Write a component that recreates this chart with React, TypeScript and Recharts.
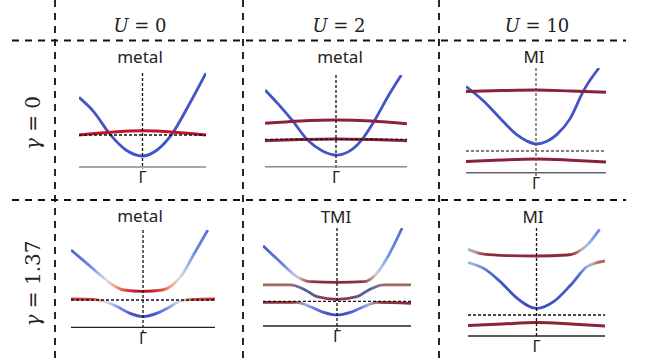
import React from 'react';
import { ComposedChart, Line, XAxis, YAxis, ReferenceLine } from 'recharts';

type Pt = { k: number; e: number };

// ---------- column / row labels ----------
const columnLabels = ['0', '2', '10'];
const rowLabels = ['0', '1.37'];
const phaseLabels = ['metal', 'metal', 'MI', 'metal', 'TMI', 'MI'];
const tickLabel = 'Γ';

// ---------- panel A : U=0, γ=0 ----------
const aBlue: Pt[] = [
  { k: -1, e: 1.88 }, { k: -0.77, e: 1.17 }, { k: -0.51, e: 0.03 }, { k: -0.26, e: -0.75 },
  { k: 0, e: -1.05 }, { k: 0.23, e: -0.75 }, { k: 0.46, e: 0.03 }, { k: 0.73, e: 1.5 }, { k: 1, e: 3.1 },
];
const aFlat: Pt[] = [
  { k: -1, e: 0 }, { k: -0.5, e: 0.14 }, { k: 0, e: 0.21 }, { k: 0.5, e: 0.14 }, { k: 1, e: 0 },
];

// ---------- panel B : U=2, γ=0 ----------
const bBlue: Pt[] = [
  { k: -1, e: 2.47 }, { k: -0.8, e: 1.71 }, { k: -0.61, e: 0.92 }, { k: -0.4, e: -0.04 },
  { k: -0.19, e: -0.59 }, { k: 0, e: -0.79 }, { k: 0.19, e: -0.59 }, { k: 0.36, e: -0.04 },
  { k: 0.54, e: 0.92 }, { k: 0.73, e: 2.13 }, { k: 0.92, e: 3.215 },
];
const bUpper: Pt[] = [
  { k: -1, e: 0.8 }, { k: -0.5, e: 0.92 }, { k: 0, e: 0.97 }, { k: 0.5, e: 0.92 }, { k: 1, e: 0.78 },
];
const bLower: Pt[] = [
  { k: -1, e: -0.07 }, { k: -0.5, e: -0.01 }, { k: 0, e: 0.02 }, { k: 0.5, e: -0.01 }, { k: 1, e: -0.07 },
];

// ---------- panel C : U=10, γ=0 ----------
const cBlue: Pt[] = [
  { k: -1, e: 3.22 }, { k: -0.75, e: 2.5 }, { k: -0.51, e: 1.63 }, { k: -0.28, e: 0.83 },
  { k: -0.13, e: 0.5 }, { k: 0, e: 0.35 }, { k: 0.15, e: 0.47 }, { k: 0.3, e: 0.83 },
  { k: 0.49, e: 1.63 }, { k: 0.68, e: 3.02 }, { k: 0.9, e: 4.15 },
];
const cUpper: Pt[] = [
  { k: -1, e: 2.97 }, { k: -0.5, e: 3.02 }, { k: 0, e: 3.05 }, { k: 0.5, e: 3.0 }, { k: 1, e: 2.94 },
];
const cLower: Pt[] = [
  { k: -1, e: -0.53 }, { k: -0.5, e: -0.45 }, { k: 0, e: -0.4 }, { k: 0.5, e: -0.46 }, { k: 1, e: -0.55 },
];

// ---------- panel D : U=0, γ=1.37 ----------
const dUpper: Pt[] = [
  { k: -1, e: 2.5 }, { k: -0.78, e: 1.83 }, { k: -0.55, e: 1.12 }, { k: -0.42, e: 0.75 },
  { k: -0.27, e: 0.5 }, { k: 0, e: 0.43 }, { k: 0.27, e: 0.5 }, { k: 0.4, e: 0.72 },
  { k: 0.54, e: 1.25 }, { k: 0.7, e: 2.25 }, { k: 0.9, e: 3.5 },
];
const dLower: Pt[] = [
  { k: -1, e: 0.05 }, { k: -0.69, e: 0.03 }, { k: -0.55, e: -0.05 }, { k: -0.36, e: -0.33 },
  { k: -0.18, e: -0.67 }, { k: 0, e: -0.83 }, { k: 0.19, e: -0.67 }, { k: 0.38, e: -0.33 },
  { k: 0.52, e: -0.05 }, { k: 0.7, e: 0.03 }, { k: 1, e: 0.05 },
];

// ---------- panel E : U=2, γ=1.37 ----------
const eUpper: Pt[] = [
  { k: -1, e: 2.78 }, { k: -0.77, e: 1.98 }, { k: -0.54, e: 1.23 }, { k: -0.36, e: 0.98 },
  { k: 0, e: 0.95 }, { k: 0.36, e: 0.98 }, { k: 0.52, e: 1.32 }, { k: 0.7, e: 2.32 }, { k: 0.88, e: 3.665 },
];
const eMiddle: Pt[] = [
  { k: -1, e: 0.82 }, { k: -0.63, e: 0.82 }, { k: -0.43, e: 0.57 }, { k: -0.27, e: 0.23 },
  { k: 0, e: 0.1 }, { k: 0.27, e: 0.23 }, { k: 0.43, e: 0.57 }, { k: 0.63, e: 0.82 }, { k: 1, e: 0.82 },
];
const eLower: Pt[] = [
  { k: -1, e: -0.05 }, { k: -0.54, e: -0.05 }, { k: -0.36, e: -0.27 }, { k: -0.18, e: -0.55 },
  { k: 0, e: -0.68 }, { k: 0.18, e: -0.55 }, { k: 0.36, e: -0.27 }, { k: 0.54, e: -0.05 }, { k: 1, e: -0.1 },
];

// ---------- panel F : U=10, γ=1.37 ----------
const fUpper: Pt[] = [
  { k: -1, e: 3.28 }, { k: -0.77, e: 3.04 }, { k: -0.43, e: 2.97 }, { k: 0, e: 2.95 },
  { k: 0.45, e: 3.0 }, { k: 0.59, e: 3.13 }, { k: 0.74, e: 3.5 }, { k: 0.92, e: 4.28 },
];
const fMiddle: Pt[] = [
  { k: -1, e: 2.62 }, { k: -0.77, e: 2.33 }, { k: -0.53, e: 1.67 }, { k: -0.28, e: 0.83 },
  { k: 0, e: 0.33 }, { k: 0.25, e: 0.67 }, { k: 0.5, e: 1.5 }, { k: 0.74, e: 2.42 }, { k: 1, e: 2.7 },
];
const fLower: Pt[] = [
  { k: -1, e: -0.53 }, { k: -0.5, e: -0.45 }, { k: 0, e: -0.38 }, { k: 0.5, e: -0.45 }, { k: 1, e: -0.55 },
];

// ---------- styles ----------
const BLUE = '#4254c8';
const CRIMSON = '#c0142e';
const MAROON = '#8a2238';

type Stop = [number, string];
const dUpperStops: Stop[] = [
  [0, '#4a5fd0'], [0.14, '#6f8ae6'], [0.2, '#a9c1f5'], [0.25, '#e2dcd9'], [0.3, '#f2a88c'],
  [0.36, '#dc5c4a'], [0.44, '#bf1f30'], [0.5, '#b40f2a'], [0.56, '#bf1f30'], [0.64, '#dc5c4a'],
  [0.7, '#f2a88c'], [0.75, '#e2dcd9'], [0.8, '#a9c1f5'], [0.86, '#6f8ae6'], [1, '#4a5fd0'],
];
const dLowerStops: Stop[] = [
  [0, '#c8323c'], [0.15, '#d34a44'], [0.2, '#ee9a80'], [0.24, '#e0dcdc'], [0.28, '#aac4f6'],
  [0.34, '#6f8ae6'], [0.42, '#4458cc'], [0.5, '#3b4cc0'], [0.58, '#4458cc'], [0.66, '#6f8ae6'],
  [0.72, '#aac4f6'], [0.76, '#e0dcdc'], [0.8, '#ee9a80'], [0.85, '#d34a44'], [1, '#c8323c'],
];
const eUpperStops: Stop[] = [
  [0, '#4458cc'], [0.14, '#6c86e0'], [0.2, '#a8bdf0'], [0.24, '#d2c8cc'], [0.28, '#b87070'],
  [0.34, '#8e3040'], [0.5, '#8a2535'], [0.66, '#8e3040'], [0.72, '#b87070'], [0.76, '#d2c8cc'],
  [0.8, '#a8bdf0'], [0.86, '#6c86e0'], [1, '#4458cc'],
];
const eMiddleStops: Stop[] = [
  [0, '#a36a62'], [0.16, '#a36a62'], [0.22, '#8a7088'], [0.28, '#4e5e9e'], [0.34, '#55609a'],
  [0.4, '#8a4050'], [0.5, '#8a3545'], [0.6, '#8a4050'], [0.66, '#55609a'], [0.72, '#4e5e9e'],
  [0.78, '#8a7088'], [0.84, '#a36a62'], [1, '#a36a62'],
];
const eLowerStops: Stop[] = [
  [0, '#8e2a38'], [0.2, '#93343f'], [0.25, '#b27a84'], [0.29, '#a0aee0'], [0.34, '#6a80de'],
  [0.42, '#4456c8'], [0.5, '#3c4dc2'], [0.58, '#4456c8'], [0.66, '#6a80de'], [0.71, '#a0aee0'],
  [0.75, '#b27a84'], [0.8, '#93343f'], [1, '#8e2a38'],
];
const fUpperStops: Stop[] = [
  [0, '#9ab4ee'], [0.05, '#b8a0a8'], [0.1, '#9a4a55'], [0.16, '#8c2a3a'], [0.74, '#8c2a3a'],
  [0.79, '#a85a5a'], [0.83, '#c8a8a8'], [0.87, '#a8bcf0'], [0.92, '#7d98ea'], [1, '#5874dc'],
];
const fMiddleStops: Stop[] = [
  [0, '#a8b2d4'], [0.06, '#8ea4e8'], [0.14, '#5a70d8'], [0.25, '#4456c8'], [0.5, '#3b4cc0'],
  [0.75, '#4456c8'], [0.82, '#5a70d8'], [0.87, '#9ab0ea'], [0.91, '#c0aaa8'], [0.95, '#ac7060'],
  [1, '#a86a58'],
];

type Band = { id: string; data: Pt[]; color?: string; stops?: Stop[]; width?: number };
type PanelCfg = {
  left: number; top: number; width: number; plotH: number; domain: [number, number];
  axisColor: string; axisWidth: number; guideColor: string; gammaBelow: number; bands: Band[];
};

const panels: PanelCfg[] = [
  {
    left: 79, top: 73, width: 127, plotH: 94, domain: [-1.6, 3.1], axisColor: '#8a8a8a', axisWidth: 1.6,
    guideColor: '#111', gammaBelow: 0.08,
    bands: [{ id: 'a1', data: aBlue, color: BLUE }, { id: 'a2', data: aFlat, color: CRIMSON, width: 3 }],
  },
  {
    left: 265, top: 75, width: 142, plotH: 91.7, domain: [-1.37, 3.215], axisColor: '#8a8a8a', axisWidth: 1.6,
    guideColor: '#111', gammaBelow: 0.15,
    bands: [
      { id: 'b1', data: bBlue, color: BLUE },
      { id: 'b2', data: bUpper, color: MAROON, width: 3 },
      { id: 'b3', data: bLower, color: MAROON, width: 3 },
    ],
  },
  {
    left: 466, top: 68, width: 140, plotH: 104.7, domain: [-1.085, 4.15], axisColor: '#666', axisWidth: 1.5,
    guideColor: '#555', gammaBelow: 0.25,
    bands: [
      { id: 'c1', data: cBlue, color: BLUE },
      { id: 'c2', data: cUpper, color: MAROON, width: 3 },
      { id: 'c3', data: cLower, color: MAROON, width: 3 },
    ],
  },
  {
    left: 71, top: 230, width: 144, plotH: 97.3, domain: [-1.365, 3.5], axisColor: '#222', axisWidth: 1.3,
    guideColor: '#111', gammaBelow: 0.25,
    bands: [
      { id: 'd1', data: dUpper, stops: dUpperStops },
      { id: 'd2', data: dLower, stops: dLowerStops },
    ],
  },
  {
    left: 263, top: 228, width: 148, plotH: 98, domain: [-1.235, 3.665], axisColor: '#222', axisWidth: 1.3,
    guideColor: '#111', gammaBelow: 0.25,
    bands: [
      { id: 'e1', data: eUpper, stops: eUpperStops },
      { id: 'e2', data: eMiddle, stops: eMiddleStops },
      { id: 'e3', data: eLower, stops: eLowerStops },
    ],
  },
  {
    left: 468, top: 228, width: 137, plotH: 108, domain: [-1.05, 4.35], axisColor: '#222', axisWidth: 1.3,
    guideColor: '#111', gammaBelow: 0.1,
    bands: [
      { id: 'f1', data: fUpper, stops: fUpperStops },
      { id: 'f2', data: fMiddle, stops: fMiddleStops },
      { id: 'f3', data: fLower, color: MAROON, width: 3 },
    ],
  },
];

const AXIS_H = 26;

function Panel({ p }: { p: PanelCfg }) {
  return (
    <div style={{ position: 'absolute', left: p.left, top: p.top }}>
      <ComposedChart width={p.width} height={p.plotH + AXIS_H} margin={{ top: 0, right: 0, bottom: 0, left: 0 }}>
        <defs>
          {p.bands
            .filter((b) => b.stops)
            .map((b) => (
              <linearGradient key={b.id} id={'g_' + b.id} gradientUnits="userSpaceOnUse" x1={0} y1={0} x2={p.width} y2={0}>
                {(b.stops as Stop[]).map(([o, c], i) => (
                  <stop key={i} offset={o} stopColor={c} />
                ))}
              </linearGradient>
            ))}
        </defs>
        <XAxis
          type="number"
          dataKey="k"
          domain={[-1, 1]}
          allowDataOverflow
          ticks={[0]}
          tickFormatter={() => tickLabel}
          height={AXIS_H}
          tickLine={false}
          tickSize={3}
          tickMargin={2}
          axisLine={{ stroke: p.axisColor, strokeWidth: p.axisWidth }}
          tick={{ fill: '#222', fontSize: 16, fontFamily: 'Noto Sans' }}
        />
        <YAxis type="number" domain={p.domain} allowDataOverflow hide />
        {p.bands.map((b) => (
          <Line
            key={b.id}
            data={b.data}
            dataKey="e"
            type="monotone"
            stroke={b.stops ? `url(#g_${b.id})` : b.color}
            strokeWidth={b.width ?? 2.8}
            dot={false}
            activeDot={false}
            isAnimationActive={false}
          />
        ))}
        <ReferenceLine y={0} stroke={p.guideColor} strokeWidth={1.3} strokeDasharray="3 2" />
        <ReferenceLine
          segment={[{ x: 0, y: p.domain[1] }, { x: 0, y: p.domain[0] - p.gammaBelow }]}
          ifOverflow="visible"
          stroke={p.guideColor}
          strokeWidth={1.3}
          strokeDasharray="3 2"
        />
      </ComposedChart>
    </div>
  );
}

const colCenters = [140, 339, 537];
const titlePos: [number, number][] = [
  [140, 62.7], [340, 62.7], [534, 63.3], [140, 222.3], [336, 223.3], [533, 223.3],
];

export default function App() {
  const dash = '7 6';
  return (
    <div style={{ position: 'fixed', left: 0, top: 0, width: 655, height: 364, background: '#fff', overflow: 'hidden' }}>
      <svg width={655} height={364} style={{ position: 'absolute', left: 0, top: 0 }}>
        {[55, 243, 439].map((x) => (
          <line key={x} x1={x} y1={0} x2={x} y2={364} stroke="#111" strokeWidth={1.8} strokeDasharray={dash} />
        ))}
        {[40.5, 200].map((y) => (
          <line key={y} x1={12} y1={y} x2={626} y2={y} stroke="#111" strokeWidth={2} strokeDasharray={dash} />
        ))}
        {columnLabels.map((u, i) => (
          <text key={u} x={colCenters[i]} y={32} textAnchor="middle" fontFamily="DejaVu Serif" fontSize={18} fill="#222">
            <tspan fontStyle="italic">U</tspan>
            {' = ' + u}
          </text>
        ))}
        {rowLabels.map((g, i) => (
          <text
            key={g}
            transform={`translate(33, ${i === 0 ? 123 : 283.5}) rotate(-90)`}
            textAnchor="middle"
            dominantBaseline="central"
            fontFamily="DejaVu Serif"
            fontSize={20}
            fill="#222"
          >
            <tspan fontStyle="italic">γ</tspan>
            {' = ' + g}
          </text>
        ))}
        {phaseLabels.map((t, i) => (
          <text key={i} x={titlePos[i][0]} y={titlePos[i][1]} textAnchor="middle" fontFamily="Noto Sans" fontSize={17} fill="#222">
            {t}
          </text>
        ))}
      </svg>
      {panels.map((p, i) => (
        <Panel key={i} p={p} />
      ))}
    </div>
  );
}
